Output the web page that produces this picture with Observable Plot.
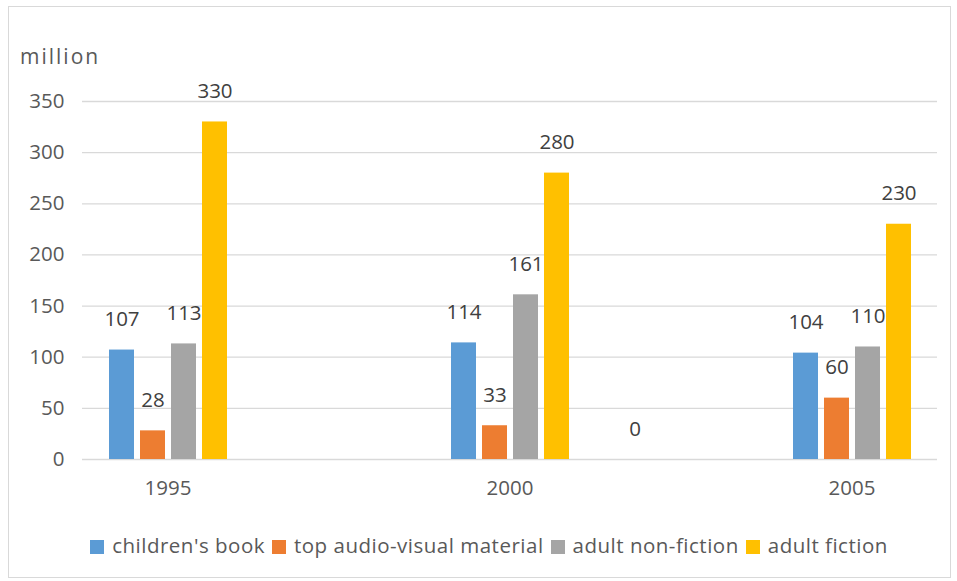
<!DOCTYPE html>
<html>
<head>
<meta charset="utf-8">
<script src="https://cdn.jsdelivr.net/npm/d3@7"></script>
<script src="https://cdn.jsdelivr.net/npm/@observablehq/plot@0.6"></script>
<style>
  html, body { margin: 0; padding: 0; background: #fff; }
  body { width: 957px; height: 581px; position: relative; overflow: hidden; font-family: "Open Sans", sans-serif; }
  #frame { position: absolute; left: 8px; top: 6px; width: 943px; height: 572px; border: 1px solid #d9d9d9; box-sizing: border-box; }
  #unit { position: absolute; left: 20px; top: 41px; font-size: 21px; letter-spacing: 2px; color: #595959; line-height: 30px; }
  #chart { position: absolute; left: 0; top: 0; }
  #legend { position: absolute; left: 0; width: 977px; top: 531px; text-align: center; font-size: 20.5px; letter-spacing: 0.5px; line-height: 28px; color: #595959; white-space: nowrap; }
  #legend span.item { display: inline-block; margin: 0 3px 0 4px; }
  #legend i { display: inline-block; width: 14px; height: 14px; margin-right: 8px; vertical-align: -1px; }
</style>
</head>
<body>
<div id="frame"></div>
<div id="chart"></div>
<div id="unit">million</div>
<div id="legend"></div>
<script>
// Categories (blank entries are the empty slots on the category axis)
const categories = ["1995", " ", "2000", "  ", "2005"];
const series = ["children's book", "top audio-visual material", "adult non-fiction", "adult fiction"];
const colors = ["#5B9BD5", "#ED7D31", "#A5A5A5", "#FFC000"];
// values per category, in category order (null = no bar)
const childrensBook = [107, null, 114, 0, 104];
const audioVisual = [28, null, 33, null, 60];
const adultNonFiction = [113, null, 161, null, 110];
const adultFiction = [330, null, 280, null, 230];
const yTicks = [0, 50, 100, 150, 200, 250, 300, 350];

const seriesValues = [childrensBook, audioVisual, adultNonFiction, adultFiction];
const rows = [];
categories.forEach((c, i) => {
  series.forEach((s, j) => {
    rows.push({category: c, series: s, value: seriesValues[j][i]});
  });
});

const chart = Plot.plot({
  width: 957,
  height: 520,
  marginLeft: 80,
  marginRight: 18,
  marginTop: 101,
  marginBottom: 61,
  style: {fontFamily: "Open Sans, sans-serif", fontSize: "20.5px", color: "#595959", background: "transparent"},
  facet: {data: rows, x: "category"},
  fx: {domain: categories, paddingInner: 0, paddingOuter: 0, axis: "bottom", label: null, tickSize: 0, tickPadding: 21},
  x: {domain: series, axis: null, paddingInner: 0.2, paddingOuter: 0.835},
  y: {domain: [0, 350], ticks: yTicks, axis: "left", label: null, tickSize: 0, tickPadding: 18},
  color: {domain: series, range: colors},
  marks: [
    Plot.ruleY(yTicks, {stroke: "#d9d9d9", strokeWidth: 1.3}),
    Plot.barY(rows, {x: "series", y: "value", fill: "series", filter: d => d.value != null}),
    Plot.text(rows, {x: "series", y: "value", text: d => String(d.value), filter: d => d.value != null, dy: -30.5, fill: "#404040", fontSize: 20.5})
  ]
});
document.getElementById("chart").appendChild(chart);

const legend = document.getElementById("legend");
series.forEach((s, j) => {
  const span = document.createElement("span");
  span.className = "item";
  const sw = document.createElement("i");
  sw.style.background = colors[j];
  span.appendChild(sw);
  span.appendChild(document.createTextNode(s));
  legend.appendChild(span);
});
</script>
</body>
</html>
